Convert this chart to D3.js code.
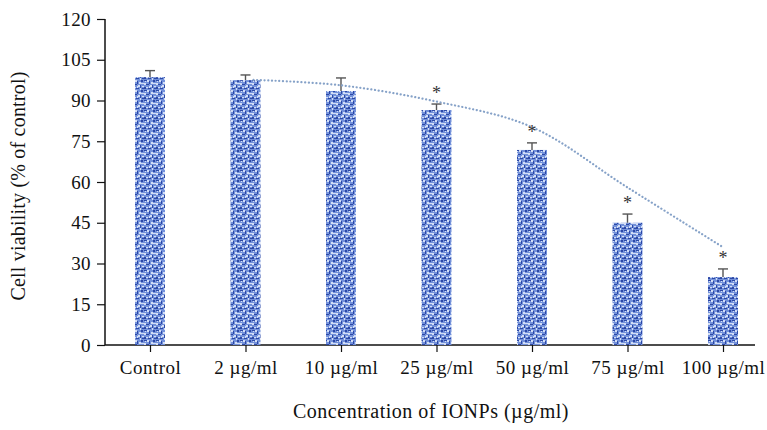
<!DOCTYPE html>
<html>
<head>
<meta charset="utf-8">
<script src="https://cdn.jsdelivr.net/npm/d3@7/dist/d3.min.js"></script>
<style>
  body { margin: 0; background: #fff; }
  text { font-family: "Liberation Serif", "Times New Roman", serif; fill: #111; }
</style>
</head>
<body>
<div id="chart"></div>
<script>
var categories = ["Control", "2 µg/ml", "10 µg/ml", "25 µg/ml", "50 µg/ml", "75 µg/ml", "100 µg/ml"];
var viability = [98.6, 97.5, 93.5, 86.5, 71.8, 45, 25];
var errors = [2.4, 1.9, 4.8, 2.2, 2.6, 3.2, 3];
var significant = [false, false, false, true, true, true, true];
var trendCats = ["2 µg/ml", "10 µg/ml", "25 µg/ml", "50 µg/ml", "75 µg/ml", "100 µg/ml"];
var trendValues = [97.6, 95.6, 89.6, 80.2, 58, 36];
var yTicks = [0, 15, 30, 45, 60, 75, 90, 105, 120];

var width = 767;
var height = 430;
var plotLeft = 105, plotTop = 19, plotBottom = 345, plotRight = 755;
var barWidth = 30;

var svg = d3.select("#chart")
  .append("svg")
  .attr("width", width)
  .attr("height", height);

/* bar texture */
var defs = svg.append("defs");
var pat = defs.append("pattern")
  .attr("id", "tex")
  .attr("patternUnits", "userSpaceOnUse")
  .attr("width", 12)
  .attr("height", 10);
pat.append("rect").attr("width", 12).attr("height", 10).attr("fill", "#7391da");
var darkBits = [[0,0,3,1],[5,1,1,3],[9,0,2,2],[2,4,3,1],[8,5,1,3],[0,7,2,2],[4,8,3,1],[10,8,2,1]];
var lightBits = [[3,0,2,2],[7,2,2,2],[0,3,2,2],[6,5,2,2],[2,7,2,1],[9,3,3,1],[10,6,2,1],[8,8,1,2],[5,6,1,2],[1,1,1,1]];
pat.selectAll(".d").data(darkBits).enter().append("rect")
  .attr("x", d => d[0]).attr("y", d => d[1]).attr("width", d => d[2]).attr("height", d => d[3])
  .attr("fill", "#2c48a6");
pat.selectAll(".l").data(lightBits).enter().append("rect")
  .attr("x", d => d[0]).attr("y", d => d[1]).attr("width", d => d[2]).attr("height", d => d[3])
  .attr("fill", "#d3def6");

/* scales */
var x = d3.scalePoint().domain(categories).range([150, 723]);
var y = d3.scaleLinear().domain([0, 120]).range([plotBottom, plotTop]);

/* axes */
var yAxis = d3.axisLeft(y).tickValues(yTicks).tickSize(8).tickPadding(6);
var gy = svg.append("g").attr("transform", `translate(${plotLeft},0)`).call(yAxis);
gy.select(".domain").attr("stroke", "#111").attr("stroke-width", 1.5).attr("d", `M0,${plotTop}V${plotBottom}`);
gy.selectAll(".tick line").attr("stroke", "#111").attr("stroke-width", 1.2);
gy.selectAll(".tick text").style("font-size", "19px").style("letter-spacing", "0.4px").attr("fill", "#111");

var xAxis = d3.axisBottom(x).tickSize(7).tickPadding(9);
var gx = svg.append("g").attr("transform", `translate(0,${plotBottom})`).call(xAxis);
gx.select(".domain").attr("stroke", "#111").attr("stroke-width", 1.5).attr("d", `M${plotLeft},0H${plotRight}`);
gx.selectAll(".tick line").attr("stroke", "#111").attr("stroke-width", 1.2);
gx.selectAll(".tick text").style("font-size", "19px").style("letter-spacing", "0.5px").attr("fill", "#111");

/* bars */
svg.append("g").selectAll("rect")
  .data(categories)
  .enter()
  .append("rect")
  .attr("x", d => x(d) - barWidth / 2)
  .attr("y", (d, i) => y(viability[i]))
  .attr("width", barWidth)
  .attr("height", (d, i) => y(0) - y(viability[i]))
  .attr("fill", "url(#tex)");

/* error bars */
var eb = svg.append("g").attr("stroke", "#555").attr("stroke-width", 1.4);
categories.forEach(function (c, i) {
  var capY = y(viability[i] + errors[i]);
  eb.append("line").attr("x1", x(c)).attr("x2", x(c)).attr("y1", y(viability[i])).attr("y2", capY);
  eb.append("line").attr("x1", x(c) - 5).attr("x2", x(c) + 5).attr("y1", capY).attr("y2", capY);
});

/* trend line */
var line = d3.line()
  .x((d, i) => x(trendCats[i]) + (i === 0 ? 8 : 0))
  .y(d => y(d))
  .curve(d3.curveCatmullRom);
svg.append("path")
  .attr("d", line(trendValues))
  .attr("fill", "none")
  .attr("stroke", "#86a2c8")
  .attr("stroke-width", 2.2)
  .attr("stroke-linecap", "round")
  .attr("stroke-dasharray", "0.1,3.6");

/* significance stars */
svg.append("g").selectAll("text")
  .data(categories.filter((c, i) => significant[i]))
  .enter()
  .append("text")
  .attr("x", d => x(d))
  .attr("y", d => { var i = categories.indexOf(d); return y(viability[i] + errors[i]) - 5; })
  .attr("text-anchor", "middle")
  .style("font-size", "18px")
  .style("fill", "#333")
  .text("*");

/* axis titles */
svg.append("text")
  .attr("transform", "translate(25,186) rotate(-90)")
  .attr("text-anchor", "middle")
  .style("font-size", "20px")
  .style("letter-spacing", "0.2px")
  .text("Cell viability (% of control)");

svg.append("text")
  .attr("x", 431)
  .attr("y", 418)
  .attr("text-anchor", "middle")
  .style("font-size", "20px")
  .style("letter-spacing", "0.5px")
  .text("Concentration of IONPs (µg/ml)");
</script>
</body>
</html>
